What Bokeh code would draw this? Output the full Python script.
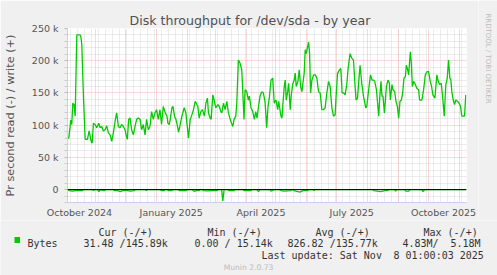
import math
import pandas as pd
from bokeh.plotting import figure
from bokeh.layouts import column, row
from bokeh.models import (FixedTicker, Grid, Span, Label, BoxAnnotation, Range1d)
from bokeh.embed import file_html
from bokeh.resources import INLINE

# ---------------- data ----------------
START = pd.Timestamp("2024-10-04 01:00:03")
END = pd.Timestamp("2025-11-08 01:00:03")

# days after START, write throughput (k bytes / s)
write_day = [0, 1.3, 3.3, 4.3, 5.3, 6.5, 7.7, 9.3, 12.7, 13.3, 14.3, 16, 17.7, 20, 21.7, 23.7, 24.7,
             26, 27.7, 29.3, 31.3, 32.7, 34.3, 36, 37.7, 39.3, 41, 42.7, 44.3, 46, 48, 49.3, 51,
             52.7, 54.3, 56, 57.7, 58.7, 60, 61.3, 62.7, 64.3, 66, 67.7, 69.3, 71, 72.7, 74.3, 76,
             77.7, 79.3, 81, 82.7, 84.3, 86, 87.7, 89.3, 91, 92.7, 94.3, 96, 98, 99.7, 100.7, 102,
             103, 104.7, 105.7, 107.3, 108.7, 110.3, 111.3, 113, 114.7, 117, 118.7, 119.7, 121.3,
             123, 124.7, 126.3, 128, 129.7, 130.7, 132, 133.7, 135.3, 137.3, 138.7, 140.3, 141.3,
             143, 144, 145.7, 147, 148.7, 150.7, 152.3, 153.7, 154.7, 156.3, 158, 159.7, 161.3,
             163.7, 165.7, 167, 168.7, 169.7, 171.3, 173, 174.7, 176, 177, 178, 179.7, 181.3,
             182.3, 184, 185.7, 187.3, 188.7, 190, 191.3, 193, 194.7, 196.3, 198, 199.7, 201,
             202.3, 204, 205.7, 207.3, 209, 210.7, 211.7, 212.7, 214, 215, 216, 217.3, 218.3,
             219.3, 220.7, 221.7, 223.3, 224.3, 226, 227.3, 228.3, 229.3, 231, 232.3, 233.7, 235,
             236, 237.3, 238.3, 239.3, 241.7, 242.7, 243.7, 245, 246.7, 248.3, 250, 251.7, 253.3,
             255, 256.7, 258.3, 260, 261.7, 263.3, 265, 266.7, 268.3, 269.3, 270.7, 272.7, 274,
             275.3, 276.7, 278.3, 280, 281.3, 283.3, 285, 286.7, 288.3, 289.3, 290.7, 292, 293.3,
             295, 296.7, 299, 300, 301.7, 303.7, 305.3, 307, 308, 309.7, 311, 312, 313, 314.3,
             315.3, 316.3, 317.7, 318.7, 319.7, 321.3, 322.7, 323.7, 325.3, 326.3, 328, 329.3,
             330.7, 332, 333.3, 334.7, 336, 337.3, 338.7, 339.7, 341, 342, 343.7, 344.7, 345.7,
             347, 348.7, 350.3, 352, 353, 355.3, 357, 358.7, 360.3, 362, 363.7, 365, 366.3, 368.3,
             370.3, 371.3, 373, 374.7, 376, 377.7, 379.3, 380.7, 382, 383.3, 384.3, 385.3, 386.7,
             388, 389.3, 391, 392.7, 394, 395.3, 397, 398, 399.3]
write_k = [80, 80, 108, 101, 134, 132, 114, 240, 240, 238, 226, 144, 78, 78, 91, 75, 72,
           103, 101, 96, 103, 96, 98, 91, 93, 99, 88, 85, 75, 88, 109, 119, 98,
           96, 101, 98, 93, 85, 78, 109, 111, 93, 85, 98, 109, 111, 109, 93, 101,
           85, 109, 93, 98, 121, 109, 119, 124, 109, 124, 101, 129, 119, 114, 103, 101,
           109, 127, 129, 114, 109, 98, 89, 101, 114, 127, 119, 103, 80,
           109, 116, 124, 137, 132, 129, 111, 121, 124, 114, 134, 142, 119,
           111, 109, 147, 139, 127, 132, 129, 121, 119, 134, 124, 137, 119,
           106, 98, 109, 114, 134, 201, 196, 186, 142, 109, 155, 152, 139,
           145, 127, 121, 109, 121, 111, 127, 145, 152, 150, 137, 96, 129,
           142, 170, 173, 134, 139, 124, 137, 127, 114, 111, 134, 160, 170,
           139, 152, 165, 124, 147, 165, 170, 181, 160, 168, 186, 160, 152,
           165, 181, 217, 211, 229, 211, 150, 170, 178, 178, 173, 152, 150,
           124, 124, 127, 150, 168, 160, 127, 114, 116, 145, 180, 186, 188,
           150, 150, 147, 163, 188, 211, 204, 201, 160, 139, 142, 168, 193,
           165, 145, 127, 129, 152, 178, 170, 170, 168, 155, 132, 114, 142, 168,
           145, 145, 119, 139, 160, 170, 165, 139, 163, 155, 152, 137,
           129, 111, 137, 139, 150, 173, 175, 193, 186, 178, 214, 196, 160,
           168, 163, 157, 155, 139, 139, 155, 178, 183, 183, 168, 160, 147, 142,
           178, 170, 163, 165, 145, 114, 163, 173, 201, 173, 170, 152, 139,
           132, 139, 137, 134, 129, 114, 114, 114, 147]

# days after START, read throughput (k bytes / s, drawn negative)
read_day = [0, 2, 5, 8, 15, 16, 25, 26, 27, 30, 31.5, 33, 37, 38, 46, 47, 50, 53, 55, 60, 63, 67,
            68, 78, 79, 80, 93, 94, 97, 98, 100, 101, 104, 106, 111, 112, 119, 120, 125, 126,
            127.5, 129, 132, 133, 135, 136, 140, 145, 150, 151, 154.5, 155.7, 157, 161, 162, 167,
            168, 176, 177, 184, 185, 190, 191.5, 193, 203, 204, 207, 213, 214, 217, 224, 225, 226,
            227, 233, 236, 241, 242, 246, 247, 248, 306, 307, 314, 318, 321, 322, 328, 329, 330,
            338, 339, 342, 343, 355, 356.5, 358, 400]
read_k = [0, -1.5, -2.5, -1.5, -1.5, 0, 0, -1.5, 0, 0, -3, 0, -1.5, 0, 0, -1.5, -1.5, -3, -1.5,
          -1.5, -2.5, -1.5, 0, 0, -1.5, 0, 0, -1.5, -1.5, 0, 0, -1.5, -1.5, 0, 0, -1.5, -1.5, 0,
          0, -1.5, -3, -1.5, -1.5, 0, 0, -1.5, -2, -1.5, -1.5, 0, 0, -17.5, 0, 0, -1.5, -1.5, 0,
          0, -1.5, -1.5, 0, 0, -3, 0, 0, -2.5, 0, 0, -1.5, -2.5, -1.5, 0, 0, -1.5, -4, -1.5, -1.5,
          0, 0, -1.5, 0, 0, -1.5, -3, -1.5, -1.5, 0, 0, -2.5, 0, 0, -2.5, -2.5, 0, 0, -3, 0, 0]

y_ticks = [0, 50000, 100000, 150000, 200000, 250000]
y_tick_labels = ["0", "50 k", "100 k", "150 k", "200 k", "250 k"]
x_label_dates = ["2024-10-16", "2025-01-16", "2025-04-16", "2025-07-16", "2025-10-16"]
x_label_texts = ["October 2024", "January 2025", "April 2025", "July 2025", "October 2025"]

title_text = "Disk throughput for /dev/sda - by year"
ylabel_text = "Pr second read (-) / write (+)"
legend_head = ["Cur (-/+)", "Min (-/+)", "Avg (-/+)", "Max (-/+)"]
legend_name = "Bytes"
legend_vals = ["31.48 /145.89k", "0.00 / 15.14k", "826.82 /135.77k", "4.83M/", "5.18M"]
update_text = ["Last update: Sat Nov", "8 01:00:03 2025"]
watermark = "Munin 2.0.73"
side_text = "RRDTOOL / TOBI OETIKER"

# ---------------- helpers ----------------
def ms(ts):
    return pd.Timestamp(ts).value / 1e6

def day_ms(d):
    return (START + pd.to_timedelta(d, unit="D")).value / 1e6

GREEN = "#00CC00"
AXIS = "#C8D0F0"
BG = "#F0F0F0"
TOP_H = 220          # height of the graph row
LEG_H = 275 - TOP_H  # height of the legend strip
MAIN_W = 478         # width of the graph figure
SIDE_W = 497 - MAIN_W

p = figure(width=MAIN_W, height=TOP_H, output_backend="svg", toolbar_location=None,
           x_range=Range1d(ms(START), ms(END)), y_range=Range1d(-20000, 250000),
           min_border_left=66, min_border_right=MAIN_W - 466, min_border_top=28,
           min_border_bottom=TOP_H - 203,
           background_fill_color="white", border_fill_color=BG,
           outline_line_color=None)

p.xgrid.visible = False
p.ygrid.visible = False

# grids
minor_y = [v for v in range(-20000, 250001, 10000) if v % 50000 != 0]
weeks = [ts.value / 1e6 for ts in pd.date_range("2024-10-07", END, freq="7D")]
months = [ts.value / 1e6 for ts in pd.date_range("2024-11-01", "2025-11-01", freq="MS")]

for dim, ticks, col in [(1, minor_y, "#D8D8D8"), (0, weeks, "#D8D8D8"),
                        (1, y_ticks, "#F0B0B0"), (0, months, "#F0B0B0")]:
    g = Grid(dimension=dim, ticker=FixedTicker(ticks=ticks), grid_line_color=col,
             grid_line_dash="1 1", grid_line_width=1)
    p.add_layout(g)

# axes
p.xaxis.ticker = FixedTicker(ticks=[ms(d) for d in x_label_dates])
p.xaxis.major_label_overrides = {ms(d): t for d, t in zip(x_label_dates, x_label_texts)}
p.xaxis.major_tick_line_color = None
p.xaxis.minor_tick_line_color = None
p.xaxis.major_tick_out = 0
p.xaxis.major_tick_in = 0
p.xaxis.minor_tick_out = 0
p.xaxis.axis_line_color = AXIS
p.xaxis.major_label_standoff = 4
p.xaxis.major_label_text_font = "DejaVu Sans"
p.xaxis.major_label_text_font_size = "9.5px"
p.xaxis.major_label_text_color = "#555555"

p.yaxis.ticker = FixedTicker(ticks=y_ticks, minor_ticks=minor_y)
p.yaxis.major_label_overrides = {t: l for t, l in zip(y_ticks, y_tick_labels)}
p.yaxis.axis_line_color = AXIS
p.yaxis.major_tick_line_color = "#BBBBBB"
p.yaxis.minor_tick_line_color = "#CCCCCC"
p.yaxis.major_tick_out = 3
p.yaxis.major_tick_in = 0
p.yaxis.minor_tick_out = 3
p.yaxis.minor_tick_in = 0
p.yaxis.major_label_standoff = 6
p.yaxis.major_label_text_font = "DejaVu Sans"
p.yaxis.major_label_text_font_size = "9.5px"
p.yaxis.major_label_text_color = "#555555"
p.yaxis.axis_label = ylabel_text
p.yaxis.axis_label_standoff = 12
p.yaxis.axis_label_text_font = "DejaVu Sans"
p.yaxis.axis_label_text_font_size = "11.3px"
p.yaxis.axis_label_text_font_style = "normal"
p.yaxis.axis_label_text_color = "#555555"

# title
p.title.text = title_text
p.title.align = "left"
p.title.offset = 62
p.title.standoff = 1
p.title.text_font = "DejaVu Sans"
p.title.text_font_size = "12.6px"
p.title.text_font_style = "normal"
p.title.text_color = "#505050"

# data lines
p.line([day_ms(d) for d in write_day], [v * 1000 for v in write_k],
       line_color=GREEN, line_width=1.3)
p.line([day_ms(d) for d in read_day], [v * 1000 for v in read_k],
       line_color=GREEN, line_width=1.3)

p.add_layout(Span(location=0, dimension="width", line_color="black", line_width=1))

# ---------------- side strip (rrdtool credit) ----------------
side = figure(width=SIDE_W, height=TOP_H, output_backend="svg", toolbar_location=None,
              x_range=Range1d(0, SIDE_W), y_range=Range1d(0, TOP_H),
              min_border=0, background_fill_color=BG, border_fill_color=BG,
              outline_line_color=None)
side.axis.visible = False
side.grid.visible = False
side.add_layout(Label(text=side_text, x=487.5 - MAIN_W, y=TOP_H - 58,
                      x_units="screen", y_units="screen", angle=-math.pi / 2,
                      text_font="DejaVu Sans", text_font_size="7px",
                      text_color="#BBBBBB", text_align="center", text_baseline="middle"))

# ---------------- legend strip ----------------
leg = figure(width=497, height=LEG_H, output_backend="svg", toolbar_location=None,
             x_range=Range1d(0, 497), y_range=Range1d(0, LEG_H),
             min_border=0, background_fill_color=BG, border_fill_color=BG,
             outline_line_color=None)
leg.axis.visible = False
leg.grid.visible = False

for fig in (p, side, leg):
    try:
        fig.frame_align = False
    except Exception:
        pass


def lab(text, X, Y, size, color="#333333", font="DejaVu Sans Mono", align="left"):
    leg.add_layout(Label(text=text, x=X, y=275 - Y, x_units="screen", y_units="screen",
                         text_font=font, text_font_size=size, text_color=color,
                         text_align=align, text_baseline="alphabetic"))


for t, X in zip(legend_head, [98, 207, 315, 423]):
    lab(t, X, 231.5, "10px")
lab(legend_name, 27, 242.5, "10px")
for t, X in zip(legend_vals, [83, 194, 287, 402, 450]):
    lab(t, X, 242.5, "10px")
lab(update_text[0], 261, 254.5, "10px")
lab(update_text[1], 393, 254.5, "10px")
lab(watermark, 248, 266.5, "7.6px", color="#BBBBBB", font="DejaVu Sans", align="center")

leg.add_layout(BoxAnnotation(left=14, right=19.5, top=275 - 236.5, bottom=275 - 242.5,
                             left_units="screen", right_units="screen", top_units="screen",
                             bottom_units="screen", fill_color=GREEN, fill_alpha=1.0,
                             line_color=None))

layout = column(row(p, side, spacing=0), leg, spacing=0)
open("out.html", "w").write(file_html(layout, INLINE))
